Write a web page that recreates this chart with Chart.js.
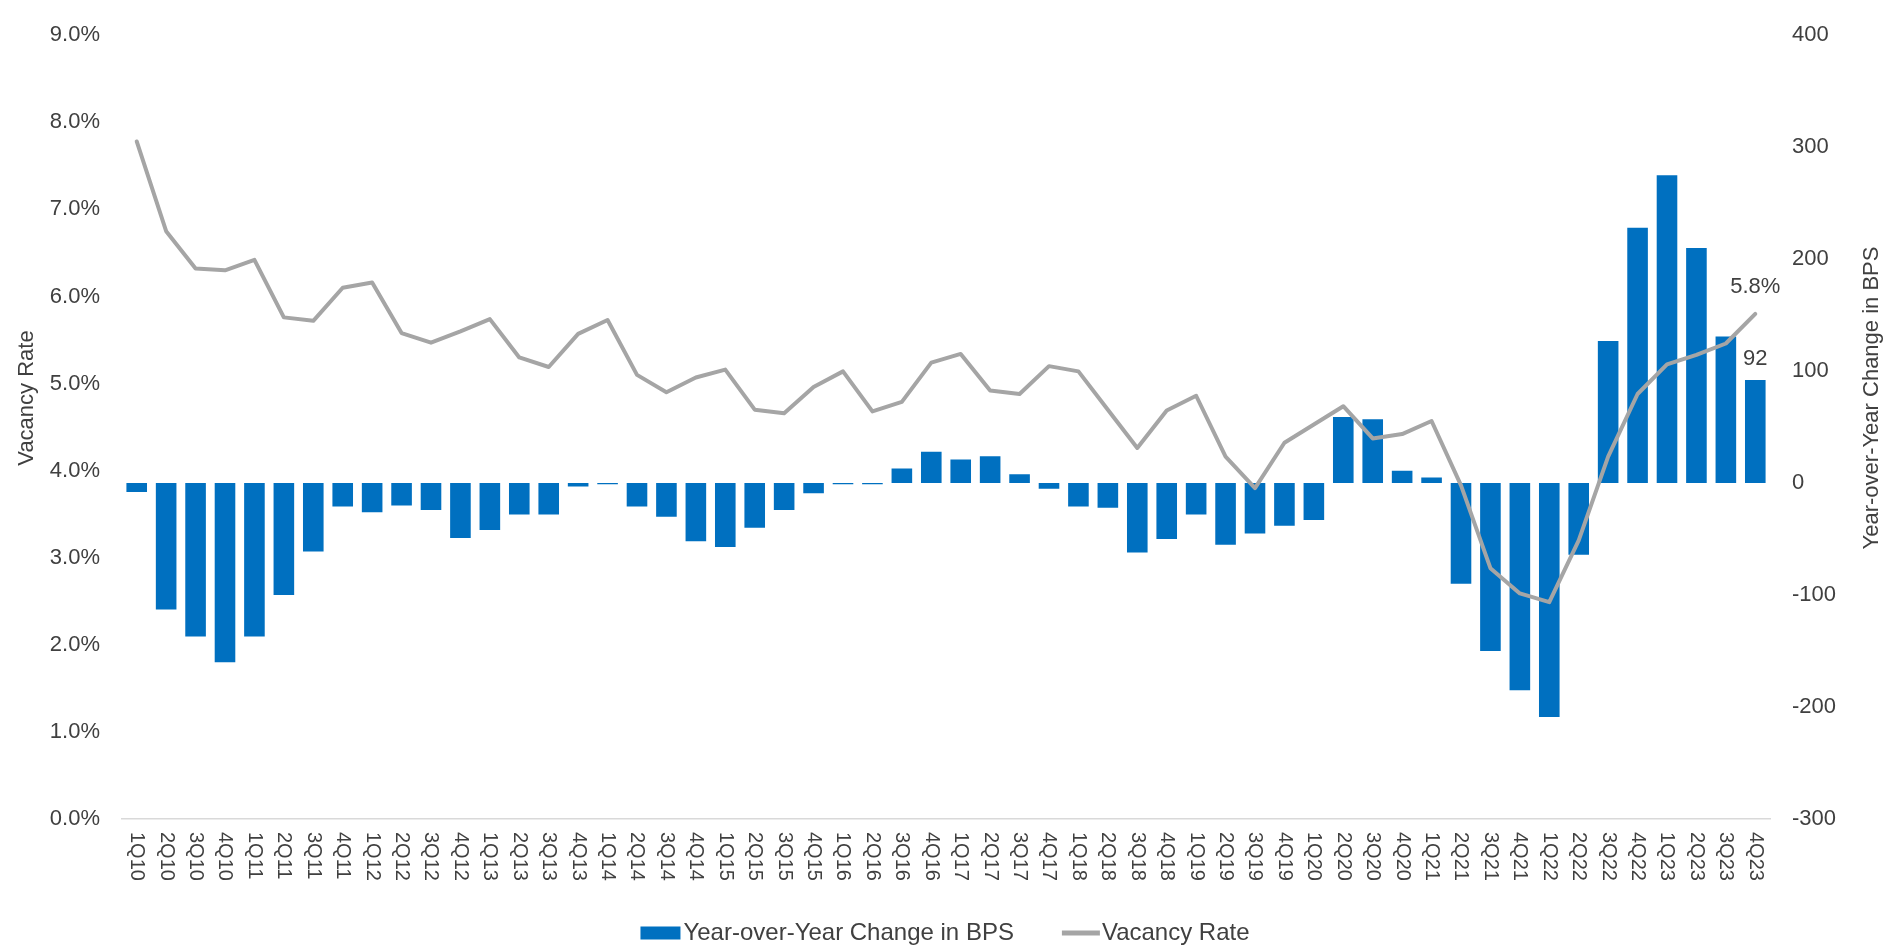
<!DOCTYPE html>
<html>
<head>
<meta charset="utf-8">
<title>Vacancy Rate and Year-over-Year Change</title>
<script src="https://cdn.jsdelivr.net/npm/chart.js@4.4.1/dist/chart.umd.min.js"></script>
<style>
  html, body { margin: 0; padding: 0; background: #ffffff; }
  #wrap { width: 1890px; height: 948px; position: relative; }
  canvas { display: block; }
</style>
</head>
<body>
<div id="wrap"><canvas id="chart" width="1890" height="948"></canvas></div>
<script>
// Quarterly categories
const quarters = [
  '1Q10','2Q10','3Q10','4Q10','1Q11','2Q11','3Q11','4Q11',
  '1Q12','2Q12','3Q12','4Q12','1Q13','2Q13','3Q13','4Q13',
  '1Q14','2Q14','3Q14','4Q14','1Q15','2Q15','3Q15','4Q15',
  '1Q16','2Q16','3Q16','4Q16','1Q17','2Q17','3Q17','4Q17',
  '1Q18','2Q18','3Q18','4Q18','1Q19','2Q19','3Q19','4Q19',
  '1Q20','2Q20','3Q20','4Q20','1Q21','2Q21','3Q21','4Q21',
  '1Q22','2Q22','3Q22','4Q22','1Q23','2Q23','3Q23','4Q23'
];

// Vacancy rate, percent
const vacancyRate = [
  7.78, 6.75, 6.32, 6.30, 6.42, 5.76, 5.72, 6.10,
  6.16, 5.58, 5.47, 5.60, 5.74, 5.30, 5.19, 5.57,
  5.73, 5.10, 4.90, 5.07, 5.16, 4.70, 4.66, 4.96,
  5.14, 4.68, 4.79, 5.24, 5.34, 4.92, 4.88, 5.20,
  5.14, 4.70, 4.26, 4.69, 4.86, 4.16, 3.80, 4.32,
  4.53, 4.74, 4.37, 4.42, 4.57, 3.83, 2.88, 2.59,
  2.49, 3.20, 4.16, 4.88, 5.22, 5.33, 5.46, 5.80
];

// Year-over-year change, basis points
const yoyChangeBps = [
  -8, -113, -137, -160, -137, -100, -61, -21,
  -26, -20, -24, -49, -42, -28, -28, -3,
  -1, -21, -30, -52, -57, -40, -24, -9,
  -1, -1, 13, 28, 21, 24, 8, -5,
  -21, -22, -62, -50, -28, -55, -45, -38,
  -33, 59, 57, 11, 5, -90, -150, -185,
  -209, -64, 127, 228, 275, 210, 131, 92
];

// Axis ranges
const rateAxis = { min: 0, max: 9, step: 1 };
const bpsAxis = { min: -300, max: 400, step: 100 };

const seriesNames = ['Year-over-Year Change in BPS', 'Vacancy Rate'];
const axisTitles = { left: 'Vacancy Rate', right: 'Year-over-Year Change in BPS' };

const FONT = '"Liberation Sans", Arial, Helvetica, sans-serif';
const TEXT_COLOR = '#404040';
const BAR_COLOR = '#0070C0';
const LINE_COLOR = '#A5A5A5';

// Category labels, axis titles, end-of-series labels and the legend
const annotations = {
  id: 'annotations',
  afterDraw(chart) {
    const ctx = chart.ctx;
    const area = chart.chartArea;
    const xScale = chart.scales.x;
    ctx.save();
    ctx.fillStyle = TEXT_COLOR;

    // quarter labels, turned to read downwards
    ctx.font = '20px ' + FONT;
    ctx.textAlign = 'left';
    ctx.textBaseline = 'middle';
    quarters.forEach((q, i) => {
      ctx.save();
      ctx.translate(xScale.getPixelForValue(i), area.bottom + 13);
      ctx.rotate(Math.PI / 2);
      ctx.fillText(q, 0, 0);
      ctx.restore();
    });

    // axis titles, reading upwards
    ctx.font = '22px ' + FONT;
    ctx.textAlign = 'center';
    const titleY = 398;
    [[27, axisTitles.left], [1872, axisTitles.right]].forEach(([tx, t]) => {
      ctx.save();
      ctx.translate(tx, titleY);
      ctx.rotate(-Math.PI / 2);
      ctx.fillText(t, 0, 0);
      ctx.restore();
    });

    // values at the last quarter
    const last = quarters.length - 1;
    const bar = chart.getDatasetMeta(0).data[last];
    const pt = chart.getDatasetMeta(1).data[last];
    ctx.font = '22px ' + FONT;
    ctx.textAlign = 'center';
    ctx.textBaseline = 'middle';
    ctx.fillText(String(yoyChangeBps[last]), bar.x, bar.y - 21);
    ctx.fillText(vacancyRate[last].toFixed(1) + '%', pt.x, pt.y - 27);

    // legend
    ctx.font = '24px ' + FONT;
    ctx.textAlign = 'left';
    const ly = 933;
    const boxW = 40, boxH = 13, boxGap = 3, itemGap = 48, lineW = 38, lineGap = 2;
    const w1 = ctx.measureText(seriesNames[0]).width;
    const w2 = ctx.measureText(seriesNames[1]).width;
    const total = boxW + boxGap + w1 + itemGap + lineW + lineGap + w2;
    let lx = chart.width / 2 - total / 2;
    ctx.fillStyle = BAR_COLOR;
    ctx.fillRect(lx, ly - boxH / 2, boxW, boxH);
    lx += boxW + boxGap;
    ctx.fillStyle = TEXT_COLOR;
    ctx.fillText(seriesNames[0], lx, ly);
    lx += w1 + itemGap;
    ctx.strokeStyle = LINE_COLOR;
    ctx.lineWidth = 5;
    ctx.beginPath();
    ctx.moveTo(lx, ly);
    ctx.lineTo(lx + lineW, ly);
    ctx.stroke();
    lx += lineW + lineGap;
    ctx.fillText(seriesNames[1], lx, ly);

    ctx.restore();
  }
};

const tickFont = { family: FONT, size: 22 };

new Chart(document.getElementById('chart'), {
  data: {
    labels: quarters,
    datasets: [
      {
        type: 'bar',
        label: seriesNames[0],
        data: yoyChangeBps,
        yAxisID: 'yBps',
        backgroundColor: BAR_COLOR,
        borderWidth: 0,
        barPercentage: 0.7,
        categoryPercentage: 1,
        order: 2
      },
      {
        type: 'line',
        label: seriesNames[1],
        data: vacancyRate,
        yAxisID: 'yRate',
        borderColor: LINE_COLOR,
        borderWidth: 4,
        borderJoinStyle: 'round',
        borderCapStyle: 'round',
        pointRadius: 0,
        tension: 0,
        fill: false,
        order: 1
      }
    ]
  },
  options: {
    responsive: false,
    animation: false,
    devicePixelRatio: 1,
    layout: { padding: { top: 23, left: 0, right: 0, bottom: 0 } },
    plugins: { legend: { display: false }, tooltip: { enabled: false } },
    scales: {
      x: {
        type: 'category',
        offset: true,
        grid: { display: false, drawTicks: false },
        border: { display: true, color: '#D9D9D9', width: 1.5 },
        ticks: { display: false },
        afterFit(s) { s.height = 129; }
      },
      yRate: {
        position: 'left',
        min: rateAxis.min,
        max: rateAxis.max,
        ticks: {
          stepSize: rateAxis.step,
          callback: v => Number(v).toFixed(1) + '%',
          font: tickFont,
          color: TEXT_COLOR,
          padding: 22
        },
        grid: { display: false, drawTicks: false },
        border: { display: false },
        afterFit(s) { s.width = 122; }
      },
      yBps: {
        position: 'right',
        min: bpsAxis.min,
        max: bpsAxis.max,
        ticks: {
          stepSize: bpsAxis.step,
          callback: v => String(v),
          font: tickFont,
          color: TEXT_COLOR,
          padding: 22
        },
        grid: { display: false, drawTicks: false },
        border: { display: false },
        afterFit(s) { s.width = 120; }
      }
    }
  },
  plugins: [annotations]
});
</script>
</body>
</html>
